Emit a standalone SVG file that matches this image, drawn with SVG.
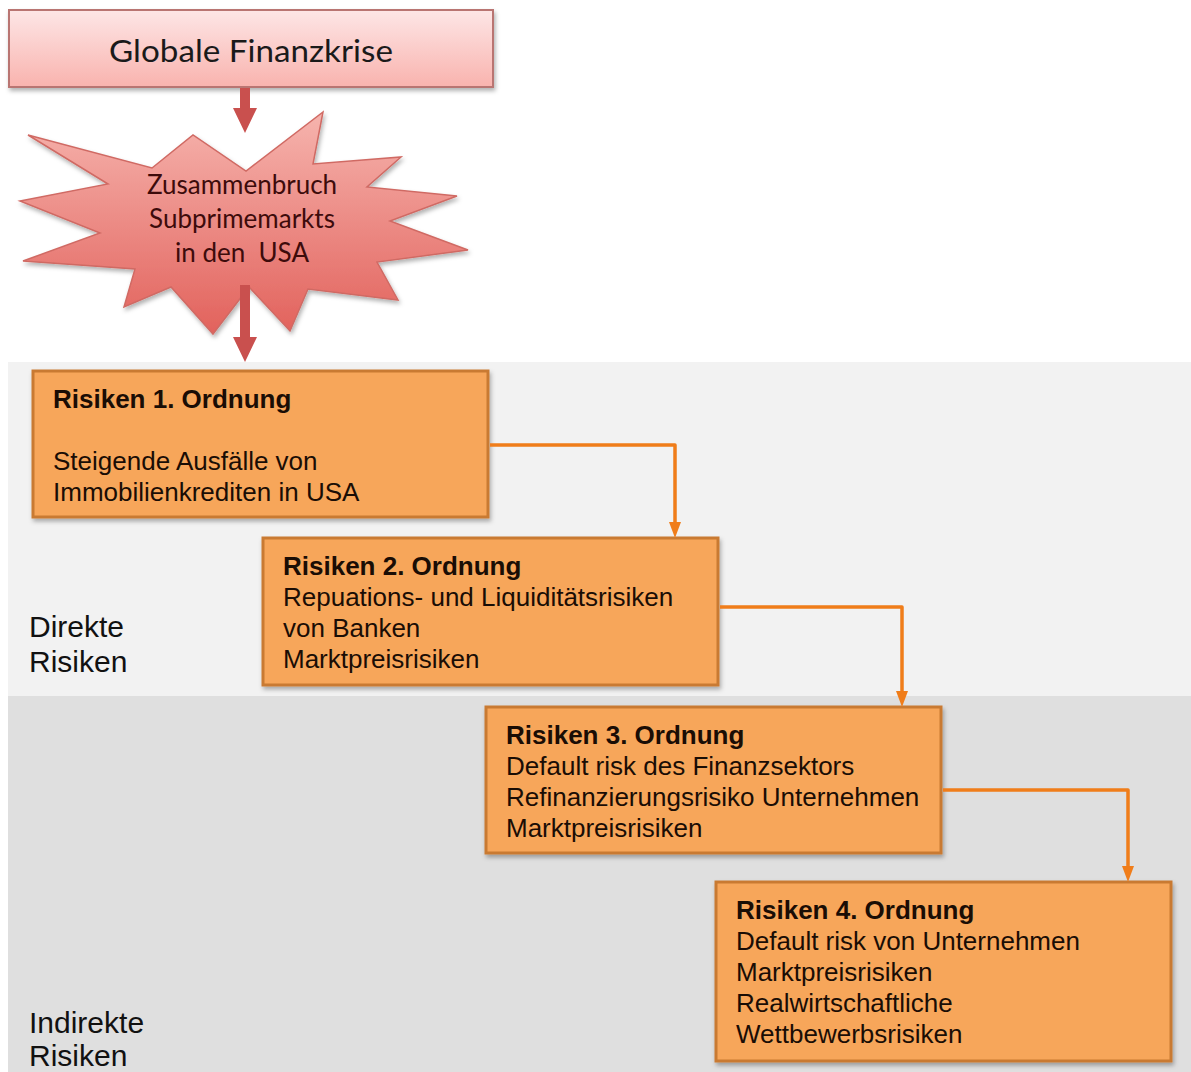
<svg xmlns="http://www.w3.org/2000/svg" width="1191" height="1072" viewBox="0 0 1191 1072">
<defs>
<style>
.box{fill:#f7a65a;stroke:#c97a30;stroke-width:3}
.bt{font-family:"Liberation Sans",Arial,sans-serif;font-size:26px;fill:#1a0d05}
.bb{font-weight:bold}
.lbl{font-family:"Liberation Sans",Arial,sans-serif;font-size:30px;fill:#111}
.conn{fill:none;stroke:#f07d1a;stroke-width:3.5;stroke-linejoin:round}
.redarrow{fill:#c9504e}
.star-t{font-family:Lato,"Open Sans",sans-serif;font-size:26px;fill:#3d0b0b;text-anchor:middle}
</style>
<linearGradient id="gTop" x1="0" y1="0" x2="0" y2="1">
<stop offset="0" stop-color="#fde6e6"/>
<stop offset="1" stop-color="#f9b3ae"/>
</linearGradient>
<linearGradient id="gStar" x1="0" y1="0" x2="0" y2="1">
<stop offset="0" stop-color="#f6b4ae"/>
<stop offset="1" stop-color="#e2625c"/>
</linearGradient>
<filter id="sh" x="-10%" y="-10%" width="120%" height="130%">
<feDropShadow dx="1.5" dy="3" stdDeviation="2" flood-color="#000" flood-opacity="0.3"/>
</filter>
</defs>

<rect x="0" y="0" width="1191" height="1072" fill="#ffffff"/>

<g id="bands">
<rect x="8" y="362" width="1183" height="334" fill="#f2f2f2"/>
<rect x="8" y="696" width="1183" height="376" fill="#dfdfdf"/>
</g>

<g id="label-direkt">
<text class="lbl" x="29" y="637">Direkte</text>
<text class="lbl" x="29" y="672">Risiken</text>
</g>
<g id="label-indirekt">
<text class="lbl" x="29" y="1033">Indirekte</text>
<text class="lbl" x="29" y="1066">Risiken</text>
</g>

<g id="node-krise">
<rect x="9" y="10" width="484" height="77" fill="url(#gTop)" stroke="#b97472" stroke-width="2" filter="url(#sh)"/>
<text x="251" y="62" font-family="Lato,'Open Sans',sans-serif" font-size="31" fill="#1a1a1a" text-anchor="middle" textLength="284" lengthAdjust="spacingAndGlyphs">Globale Finanzkrise</text>
</g>

<g id="node-zusammenbruch">
<polygon points="28,135 152,168 193,135 246,171 323,112 313,164 401,157 367,187 457,196 390,221 468,250 377,262 398,300 308,289 290,331 249,287 213,334 171,287 124,307 135,269 23,261 100,233 20,201 108,184" fill="url(#gStar)" stroke="#d06a64" stroke-width="1.5" filter="url(#sh)"/>
<text class="star-t" x="242" y="194">Zusammenbruch</text>
<text class="star-t" x="242" y="228">Subprimemarkts</text>
<text class="star-t" x="242" y="262" xml:space="preserve">in den  USA</text>
</g>

<g id="red-arrows">
<polygon class="redarrow" points="240,88 250,88 250,108 257,108 245,133 233,108 240,108"/>
<polygon class="redarrow" points="240,285 250,285 250,337 257,337 245,362 233,337 240,337"/>
</g>

<g id="node-r1">
<rect class="box" x="33" y="371" width="455" height="146" filter="url(#sh)"/>
<text class="bt bb" x="53" y="408">Risiken 1. Ordnung</text>
<text class="bt" x="53" y="470">Steigende Ausfälle von</text>
<text class="bt" x="53" y="501">Immobilienkrediten in USA</text>
</g>

<g id="node-r2">
<rect class="box" x="263" y="538" width="455" height="147" filter="url(#sh)"/>
<text class="bt bb" x="283" y="575">Risiken 2. Ordnung</text>
<text class="bt" x="283" y="606">Repuations- und Liquiditätsrisiken</text>
<text class="bt" x="283" y="637">von Banken</text>
<text class="bt" x="283" y="668">Marktpreisrisiken</text>
</g>

<g id="node-r3">
<rect class="box" x="486" y="707" width="455" height="146" filter="url(#sh)"/>
<text class="bt bb" x="506" y="744">Risiken 3. Ordnung</text>
<text class="bt" x="506" y="775">Default risk des Finanzsektors</text>
<text class="bt" x="506" y="806">Refinanzierungsrisiko Unternehmen</text>
<text class="bt" x="506" y="837">Marktpreisrisiken</text>
</g>

<g id="node-r4">
<rect class="box" x="716" y="882" width="455" height="179" filter="url(#sh)"/>
<text class="bt bb" x="736" y="919">Risiken 4. Ordnung</text>
<text class="bt" x="736" y="950">Default risk von Unternehmen</text>
<text class="bt" x="736" y="981">Marktpreisrisiken</text>
<text class="bt" x="736" y="1012">Realwirtschaftliche</text>
<text class="bt" x="736" y="1043">Wettbewerbsrisiken</text>
</g>

<g id="connectors">
<path class="conn" d="M490,445 H675 V523"/>
<path d="M669,522 L681,522 L675,538 Z" fill="#f07d1a"/>
<path class="conn" d="M720,607 H902 V692"/>
<path d="M896,691 L908,691 L902,707 Z" fill="#f07d1a"/>
<path class="conn" d="M943,790 H1128 V867"/>
<path d="M1122,866 L1134,866 L1128,882 Z" fill="#f07d1a"/>
</g>
</svg>
